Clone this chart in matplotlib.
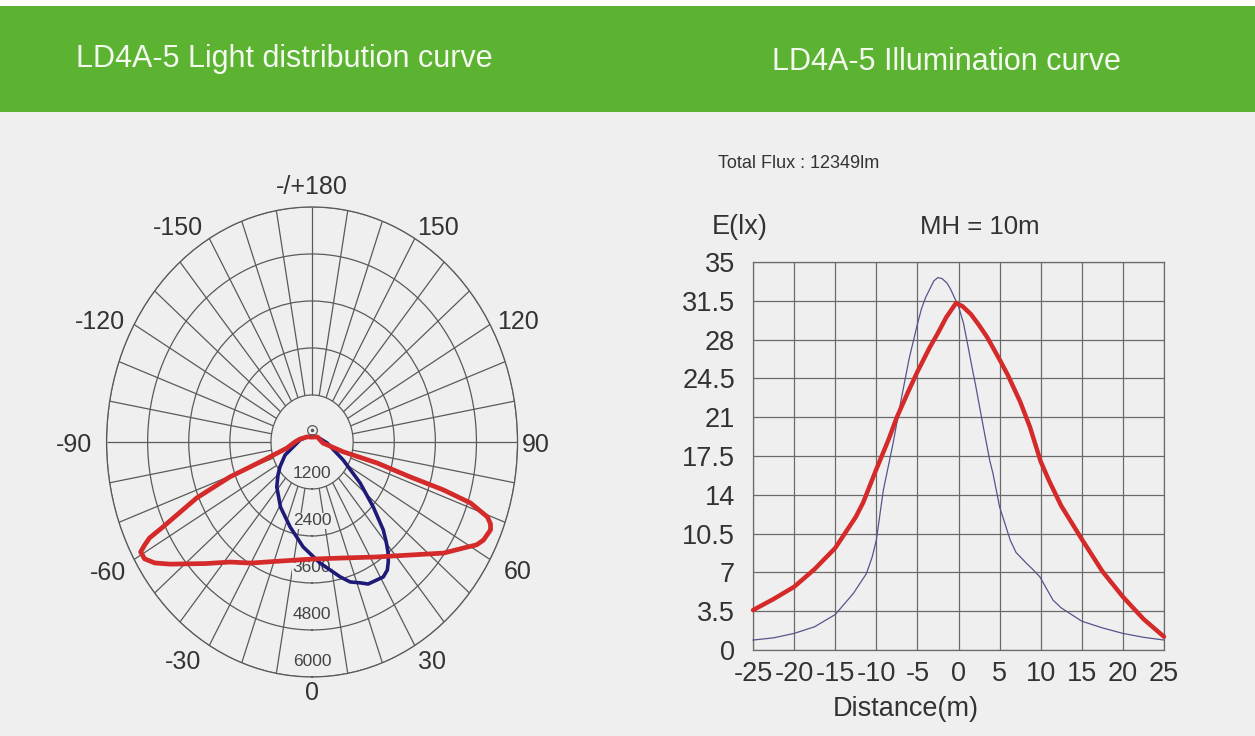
import numpy as np
import matplotlib.pyplot as plt
from matplotlib.patches import Rectangle

plt.rcParams['font.family'] = ['Liberation Sans', 'DejaVu Sans']

titles = ["LD4A-5 Light distribution curve", "LD4A-5 Illumination curve"]

# light distribution (cd) vs angle (deg), 0 = straight down
red_angle = [-180, -130, -102, -90, -78, -71.4, -69.6, -67, -63.5, -62.7, -61.7, -60.7, -58.6,
             -56.1, -53.1, -45, -38, -30, -17, 0, 15, 33, 45, 53.5, 59.4, 61.3, 63.4, 66.7,
             68.1, 69.5, 71.4, 72.3, 72.7, 74.2, 74.6, 85, 130, 180]
red_cd = [130, 200, 360, 500, 750, 1600, 2560, 3660, 4870, 5337, 5551, 5739, 5728,
          5537, 5194, 4390, 3890, 3570, 3180, 2990, 3070, 3500, 4080, 4770, 5270, 5473, 5596, 5674,
          5615, 5468, 4880, 4020, 3000, 1980, 940, 320, 200, 130]

blue_angle = [-180, -130, -98, -72, -67, -56, -49.7, -42, -29, -16.5, -5.6, 4.3, 13.4, 17.3,
              21.3, 24.3, 28.4, 31.1, 33.9, 36, 38.1, 40.3, 42.8, 47.1, 53.3, 63.1, 86.6, 131, 180]
blue_cd = [130, 200, 355, 680, 857, 1130, 1304, 1540, 1900, 2260, 2690, 3100, 3540, 3743,
           3860, 3979, 4000, 4025, 3940, 3786, 3600, 3348, 3060, 2440, 1750, 1020, 440, 200, 130]

ring_values = [1200, 2400, 3600, 4800, 6000]
angle_texts = ["0", "30", "60", "90", "120", "150", "-/+180", "-150", "-120", "-90", "-60", "-30"]
# where each angle label sits (deg, radius in cd units)
angle_label_pos = [(0, 6400), (32, 6620), (61, 6870), (89.3, 6530), (117, 6740), (146, 6580),
                   (180, 6520), (-144.3, 6730), (-116.3, 6920), (-89.4, 6940), (-60.7, 6840),
                   (-33.9, 6770)]
source_point = (180, 300)

# illuminance curve, MH = 10m
dist_red = [-25, -22.5, -20, -17.5, -15, -12.5, -11.6, -10, -8.5, -7.5, -6, -5, -3.5, -2.5,
            -1.5, -0.3, 0.5, 1.5, 2.5, 3.5, 5, 6, 7.5, 8.7, 10, 11, 12.5, 15, 17.5, 20, 22.5, 25]
lux_red = [3.6, 4.6, 5.7, 7.3, 9.2, 12.0, 13.3, 16.3, 19.0, 21.0, 23.5, 25.1, 27.3, 28.6,
           30.0, 31.3, 31.0, 30.3, 29.3, 28.2, 26.2, 24.8, 22.4, 20.1, 17.0, 15.3, 13.0, 10.0,
           7.1, 4.8, 2.8, 1.2]
dist_blue = [-25, -22.5, -20, -17.5, -15, -12.8, -11.2, -10.5, -10, -9.15, -8, -7, -6, -5,
             -4.5, -4, -3, -2.5, -2, -1.4, -1, 0, 0.6, 1, 1.8, 2, 3, 3.8, 4.2, 5, 6.3, 7, 8.3,
             9, 9.9, 11.5, 12.5, 15, 17.5, 20, 22.5, 25]
lux_blue = [0.9, 1.1, 1.5, 2.1, 3.2, 5.1, 6.9, 8.4, 9.9, 14.4, 18.5, 22.5, 26.3, 29.4,
            30.8, 31.8, 33.3, 33.6, 33.5, 33.1, 32.6, 31.0, 29.5, 28.0, 24.9, 24.2, 20.2, 17.1,
            15.9, 12.9, 9.9, 8.8, 7.8, 7.3, 6.6, 4.5, 3.8, 2.6, 2.0, 1.5, 1.15, 0.9]
x_ticks = [-25, -20, -15, -10, -5, 0, 5, 10, 15, 20, 25]
x_tick_labels = ["-25", "-20", "-15", "-10", "-5", "0", "5", "10", "15", "20", "25"]
y_ticks = [0, 3.5, 7, 10.5, 14, 17.5, 21, 24.5, 28, 31.5, 35]
y_tick_labels = ["0", "3.5", "7", "10.5", "14", "17.5", "21", "24.5", "28", "31.5", "35"]

bg = "#efefef"
green = "#5cb332"
grid_c = "#5a5a5a"
red = "#d42a2a"
navy = "#1e1a78"
text_c = "#333333"

fig = plt.figure(figsize=(12.55, 7.36), dpi=100, facecolor=bg)
fig.patches.append(Rectangle((0, 0.8478), 1, 0.1440, transform=fig.transFigure,
                             facecolor=green, edgecolor="none", zorder=0))
fig.patches.append(Rectangle((0, 0.9918), 1, 0.0082, transform=fig.transFigure,
                             facecolor="white", edgecolor="none", zorder=0))
fig.text(0.2263, 0.9090, titles[0], color="#f4f9f0", fontsize=22, ha="center", va="baseline")
fig.text(0.7538, 0.9049, titles[1], color="#f4f9f0", fontsize=22, ha="center", va="baseline")

# --- polar light distribution ---
ax = fig.add_axes([0.0849, 0.0802, 0.3275, 0.6386], projection="polar")
ax.set_aspect("auto")
ax.set_facecolor("none")
ax.set_theta_zero_location("S")
ax.set_theta_direction(1)
ax.set_ylim(0, 6000)
ax.set_xticks([])
ax.set_yticks(ring_values)
ax.set_yticklabels([])
ax.yaxis.grid(True, color=grid_c, lw=0.9)
ax.spines["polar"].set_color(grid_c)
ax.spines["polar"].set_linewidth(0.9)

spokes = [a for a in range(-170, 181, 10) if a != 0]
ax.vlines(np.radians(spokes), ring_values[0], ring_values[-1], colors=grid_c, lw=0.9, zorder=1)

for v in ring_values:
    ax.text(0, v - 390, str(v), ha="center", va="center", fontsize=12.5, color="#444444",
            bbox=dict(fc=bg, ec="none", pad=0.3), zorder=2)

for (a, r), t in zip(angle_label_pos, angle_texts):
    ax.text(np.radians(a), r, t, ha="center", va="center", fontsize=18, color=text_c,
            clip_on=False)

ax.plot(np.radians(blue_angle), blue_cd, color=navy, lw=2.6, zorder=4, solid_joinstyle="round")
ax.plot(np.radians(red_angle), red_cd, color=red, lw=3.4, zorder=5, solid_joinstyle="round")
ax.plot(np.radians(source_point[0]), source_point[1], marker="o", ms=7, mfc="none",
        mec=grid_c, mew=0.9, zorder=6)
ax.plot(np.radians(source_point[0]), source_point[1], marker="o", ms=1.5, color=grid_c, zorder=6)

# --- illumination curve ---
ax2 = fig.add_axes([0.6, 0.1168, 0.3275, 0.5272])
ax2.set_facecolor("none")
ax2.set_xlim(-25, 25)
ax2.set_ylim(0, 35)
ax2.set_xticks(x_ticks)
ax2.set_xticklabels(x_tick_labels)
ax2.set_yticks(y_ticks)
ax2.set_yticklabels(y_tick_labels)
ax2.grid(True, color="#6a6a6a", lw=0.9)
for s in ax2.spines.values():
    s.set_color("#6a6a6a")
    s.set_linewidth(0.9)
ax2.tick_params(axis="both", length=0, labelsize=19.5, colors=text_c)
ax2.tick_params(axis="y", pad=13)
ax2.tick_params(axis="x", pad=8)

ax2.plot(dist_blue, lux_blue, color="#55558c", lw=0.9, zorder=3, clip_on=False)
ax2.plot(dist_red, lux_red, color=red, lw=3.2, zorder=4, clip_on=False,
         solid_capstyle="round", solid_joinstyle="round")

ax2.set_xlabel("Distance(m)", fontsize=19.5, color=text_c)
ax2.xaxis.set_label_coords(0.372, -0.118)
fig.text(0.5897, 0.6820, "E(lx)", fontsize=19.5, color=text_c, ha="center", va="baseline")
fig.text(0.7809, 0.6820, "MH = 10m", fontsize=18.5, color=text_c, ha="center", va="baseline")
fig.text(0.5721, 0.7717, "Total Flux : 12349lm", fontsize=13, color=text_c, ha="left",
         va="baseline")

fig.savefig("out.png", dpi=100, facecolor=fig.get_facecolor())
